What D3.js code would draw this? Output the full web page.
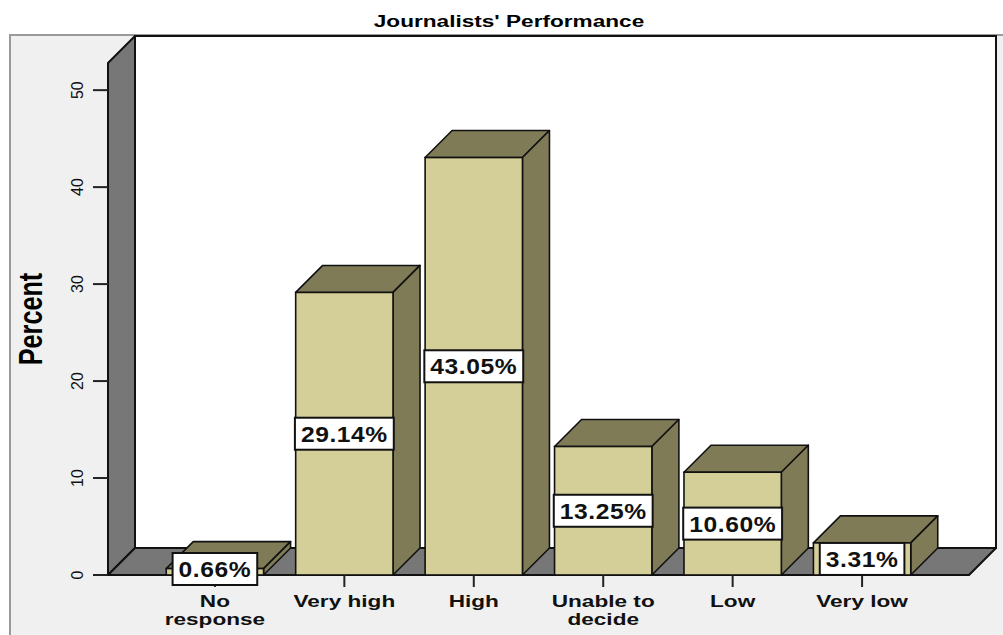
<!DOCTYPE html>
<html>
<head>
<meta charset="utf-8">
<script src="https://cdn.jsdelivr.net/npm/d3@7/dist/d3.min.js"></script>
<style>
  html, body { margin: 0; padding: 0; background: #ffffff; }
  svg { display: block; font-family: "Liberation Sans", Arial, Helvetica, sans-serif; }
</style>
</head>
<body>
<svg id="chart" width="1003" height="635"></svg>
<script>
// Survey result: rating of journalists' performance (percent of respondents)
const categories = [["No", "response"], ["Very high"], ["High"], ["Unable to", "decide"], ["Low"], ["Very low"]];
const percents = [0.66, 29.14, 43.05, 13.25, 10.60, 3.31];
const yTicks = [0, 10, 20, 30, 40, 50];
const chartTitle = "Journalists' Performance";
const yTitle = "Percent";

const svg = d3.select("#chart");

// Front plane of the 3D box and the depth offset to the back plane
const front = { left: 108, right: 969, top: 63, bottom: 575 };
const depth = { dx: 27, dy: 27 };

const y = d3.scaleLinear().domain([0, 52.8]).range([front.bottom, front.top]);
const x = d3.scaleBand()
  .domain(categories.map((c, i) => i))
  .range([front.left, front.right])
  .paddingInner(0.248)
  .paddingOuter(0.45);

const wallGray = "#777777";
const barFront = "#d4ce98";
const barDark = "#807b57";

// Frame panel
svg.append("rect")
  .attr("x", 10).attr("y", 35).attr("width", 1010).attr("height", 620)
  .attr("fill", "#f0f0f0").attr("stroke", "#9a9a9a").attr("stroke-width", 2);

// Title
svg.append("text")
  .attr("transform", "translate(509,27) scale(1.33,1)")
  .attr("text-anchor", "middle")
  .attr("font-size", 17).attr("font-weight", "bold")
  .text(chartTitle);

// Back wall
const backLeft = front.left + depth.dx, backBottom = front.bottom - depth.dy;
const backRight = front.right + depth.dx, backTop = front.top - depth.dy;
svg.append("rect")
  .attr("x", backLeft).attr("y", backTop)
  .attr("width", backRight - backLeft).attr("height", backBottom - backTop)
  .attr("fill", "#ffffff").attr("stroke", "#111").attr("stroke-width", 2);

// Left wall
svg.append("polygon")
  .attr("points", [[front.left, front.top], [backLeft, backTop], [backLeft, backBottom], [front.left, front.bottom]].join(" "))
  .attr("fill", wallGray).attr("stroke", "#111").attr("stroke-width", 2).attr("stroke-linejoin", "round");

// Floor
svg.append("polygon")
  .attr("points", [[front.left, front.bottom], [backLeft, backBottom], [backRight, backBottom], [front.right, front.bottom]].join(" "))
  .attr("fill", wallGray).attr("stroke", "#111").attr("stroke-width", 2).attr("stroke-linejoin", "round");

// Y axis: ticks and labels on the front-left edge
const yAxis = svg.append("g");
yAxis.selectAll("line.tick").data(yTicks).join("line")
  .attr("x1", front.left - 15).attr("x2", front.left)
  .attr("y1", d => y(d)).attr("y2", d => y(d))
  .attr("stroke", "#222").attr("stroke-width", 2);
yAxis.selectAll("text").data(yTicks).join("text")
  .attr("transform", d => `translate(83,${y(d)}) rotate(-90)`)
  .attr("text-anchor", "middle")
  .attr("font-size", 16)
  .attr("fill", "#111")
  .text(d => d);

svg.append("text")
  .attr("transform", "translate(42,319) rotate(-90) scale(1.05,1.35)")
  .attr("text-anchor", "middle")
  .attr("font-size", 24).attr("font-weight", "bold")
  .text(yTitle);

// Bars as 3D boxes: front face, top face, right side
const bw = x.bandwidth();
const bars = svg.append("g").selectAll("g").data(percents).join("g");
bars.each(function(v, i) {
  const g = d3.select(this);
  const x0 = x(i), x1 = x0 + bw, yv = y(v), yb = y(0);
  g.append("polygon")
    .attr("points", [[x0, yv], [x0 + depth.dx, yv - depth.dy], [x1 + depth.dx, yv - depth.dy], [x1, yv]].join(" "))
    .attr("fill", barDark).attr("stroke", "#111").attr("stroke-width", 1.6).attr("stroke-linejoin", "round");
  g.append("polygon")
    .attr("points", [[x1, yv], [x1 + depth.dx, yv - depth.dy], [x1 + depth.dx, yb - depth.dy], [x1, yb]].join(" "))
    .attr("fill", barDark).attr("stroke", "#111").attr("stroke-width", 1.6).attr("stroke-linejoin", "round");
  g.append("rect")
    .attr("x", x0).attr("y", yv).attr("width", bw).attr("height", yb - yv)
    .attr("fill", barFront).attr("stroke", "#111").attr("stroke-width", 1.6);
});

// Category ticks and labels
const xAxis = svg.append("g");
xAxis.selectAll("line").data(categories).join("line")
  .attr("x1", (d, i) => x(i) + bw / 2).attr("x2", (d, i) => x(i) + bw / 2)
  .attr("y1", front.bottom).attr("y2", front.bottom + 12)
  .attr("stroke", "#222").attr("stroke-width", 2);
xAxis.selectAll("text").data(categories).join("text")
  .attr("transform", (d, i) => `translate(${x(i) + bw / 2},607) scale(1.33,1)`)
  .attr("text-anchor", "middle")
  .attr("font-size", 17).attr("font-weight", "bold")
  .attr("fill", "#111")
  .each(function(lines) {
    d3.select(this).selectAll("tspan").data(lines).join("tspan")
      .attr("x", 0).attr("dy", (d, j) => j === 0 ? 0 : 18.5)
      .text(d => d);
  });

// Value labels: white boxes centred on each bar's front face
const labels = svg.append("g").selectAll("g").data(percents).join("g");
labels.each(function(v, i) {
  const g = d3.select(this);
  const cx = x(i) + bw / 2;
  const cy = Math.min(y(v / 2), y(0) - 6);
  const box = g.append("rect");
  const t = g.append("text")
    .attr("transform", `translate(${cx},${cy}) scale(1.12,1)`)
    .attr("text-anchor", "middle")
    .attr("dy", "0.36em")
    .attr("font-size", 22).attr("font-weight", "bold")
    .attr("letter-spacing", 0.5)
    .attr("fill", "#111")
    .text(v.toFixed(2) + "%");
  const w = t.node().getComputedTextLength() * 1.12 + 12;
  const h = 32;
  box.attr("x", cx - w / 2).attr("y", cy - h / 2).attr("width", w).attr("height", h)
    .attr("fill", "#ffffff").attr("stroke", "#111").attr("stroke-width", 2);
});
</script>
</body>
</html>
